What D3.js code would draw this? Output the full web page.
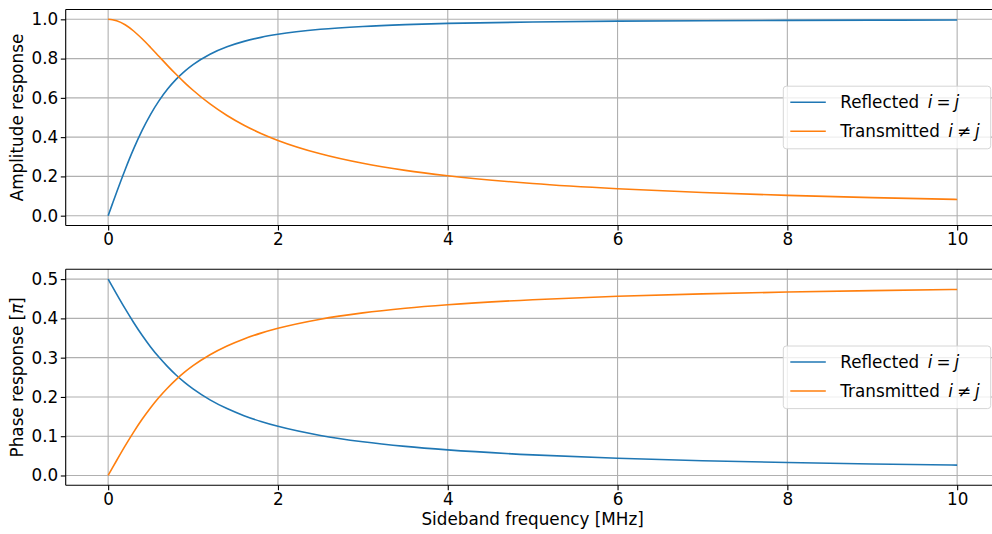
<!DOCTYPE html>
<html>
<head>
<meta charset="utf-8">
<script src="https://cdn.jsdelivr.net/npm/d3@7"></script>
<style>
  html, body { margin: 0; padding: 0; background: #fff; }
  svg { display: block; font-family: "DejaVu Sans", sans-serif; }
</style>
</head>
<body>
<svg id="chart" width="992" height="534"></svg>
<script>
// ---- data ----
const freq = [0, 0.05, 0.1, 0.2, 0.3, 0.4, 0.5, 0.6, 0.7, 0.8, 0.9, 1.0, 1.2, 1.4, 1.6, 1.8, 2.0, 2.5, 3.0, 3.5, 4, 5, 6, 7, 8, 9, 10];
const ampReflected = [0, 0.0601, 0.1196, 0.2343, 0.3399, 0.4341, 0.5160, 0.5858, 0.6447, 0.6940, 0.7351, 0.7695, 0.8224, 0.8602, 0.8877, 0.9081, 0.9236, 0.9491, 0.9638, 0.9730, 0.9791, 0.9865, 0.9906, 0.9930, 0.9947, 0.9958, 0.9966];
const ampTransmitted = [1, 0.9982, 0.9928, 0.9722, 0.9405, 0.9008, 0.8566, 0.8104, 0.7644, 0.7200, 0.6779, 0.6387, 0.5689, 0.5100, 0.4605, 0.4187, 0.3833, 0.3151, 0.2666, 0.2307, 0.2032, 0.1638, 0.1370, 0.1177, 0.1032, 0.0918, 0.0827];
const phaseReflected = [0.5, 0.4808, 0.4618, 0.4247, 0.3896, 0.3570, 0.3274, 0.3008, 0.2772, 0.2559, 0.2371, 0.2205, 0.1926, 0.1703, 0.1523, 0.1375, 0.1252, 0.1020, 0.0859, 0.0741, 0.0651, 0.0524, 0.0438, 0.0376, 0.0329, 0.0293, 0.0264];
const phaseTransmitted = [0, 0.0192, 0.0382, 0.0753, 0.1104, 0.1430, 0.1726, 0.1992, 0.2228, 0.2441, 0.2629, 0.2795, 0.3074, 0.3297, 0.3477, 0.3625, 0.3748, 0.3980, 0.4141, 0.4259, 0.4349, 0.4476, 0.4562, 0.4624, 0.4671, 0.4707, 0.4736];
const xTicks = [0, 2, 4, 6, 8, 10];
const ampTicks = [0.0, 0.2, 0.4, 0.6, 0.8, 1.0];
const phaseTicks = [0.0, 0.1, 0.2, 0.3, 0.4, 0.5];
const seriesNames = ["Reflected", "Transmitted"];
const seriesSymbols = ["=", "\u2260"];
const xLabel = "Sideband frequency [MHz]";
const ampLabel = "Amplitude response";
const phaseLabel = "Phase response [";

// ---- styling ----
const colors = ["#1f77b4", "#ff7f0e"];
const fontSize = 16.8;
const tickLen = 4.9;
const svg = d3.select("#chart");

const left = 65.7, right = 999.6;
const x = d3.scaleLinear().domain([-0.5, 10.5]).range([left, right]);

function panel(top, bottom, yDomain, yTicks, s1, s2, label, isPhase, showXLabel) {
  const y = d3.scaleLinear().domain(yDomain).range([bottom, top]);
  const g = svg.append("g");

  // grid
  g.append("g").selectAll("line").data(xTicks).join("line")
    .attr("x1", d => x(d)).attr("x2", d => x(d)).attr("y1", top).attr("y2", bottom)
    .attr("stroke", "#b0b0b0").attr("stroke-width", 1.1);
  g.append("g").selectAll("line").data(yTicks).join("line")
    .attr("x1", left).attr("x2", right).attr("y1", d => y(d)).attr("y2", d => y(d))
    .attr("stroke", "#b0b0b0").attr("stroke-width", 1.1);

  // lines
  const line = d3.line().x((d, i) => x(freq[i])).y(d => y(d)).curve(d3.curveMonotoneX);
  [s1, s2].forEach((s, k) => {
    g.append("path").datum(s).attr("d", line)
      .attr("fill", "none").attr("stroke", colors[k]).attr("stroke-width", 1.6);
  });

  // axes
  const xAxis = d3.axisBottom(x).tickValues(xTicks).tickFormat(d3.format("d")).tickSize(tickLen).tickPadding(3);
  const yAxis = d3.axisLeft(y).tickValues(yTicks).tickFormat(d3.format(".1f")).tickSize(tickLen).tickPadding(2.5);
  const gx = g.append("g").attr("transform", `translate(0,${bottom})`).call(xAxis);
  const gy = g.append("g").attr("transform", `translate(${left},0)`).call(yAxis);
  [gx, gy].forEach(a => {
    a.attr("font-size", fontSize).attr("font-family", "DejaVu Sans");
    a.select(".domain").remove();
    a.selectAll(".tick line").attr("stroke", "#000").attr("stroke-width", 1.1);
    a.selectAll(".tick text").attr("font-size", fontSize).attr("fill", "#000");
  });

  // spines
  const sp = [[left, top, left, bottom], [left, top, right, top], [left, bottom, right, bottom], [right, top, right, bottom]];
  g.append("g").selectAll("line").data(sp).join("line")
    .attr("x1", d => d[0]).attr("y1", d => d[1]).attr("x2", d => d[2]).attr("y2", d => d[3])
    .attr("stroke", "#000").attr("stroke-width", 1.1);

  // y label
  const yl = g.append("text")
    .attr("transform", `translate(23,${(top + bottom) / 2}) rotate(-90)`)
    .attr("text-anchor", "middle").attr("font-size", fontSize).attr("fill", "#000");
  yl.append("tspan").text(label);
  if (isPhase) {
    yl.append("tspan").attr("font-style", "italic").text("\u03c0");
    yl.append("tspan").text("]");
  }

  // x label
  if (showXLabel) {
    g.append("text").attr("x", (left + right) / 2).attr("y", 525)
      .attr("text-anchor", "middle").attr("font-size", fontSize).attr("fill", "#000")
      .text(xLabel);
  }

  // legend (center right)
  const lh = 62.6, lw = 207.4;
  const lx = 783.3, ly = (top + bottom) / 2 - lh / 2;
  const lg = g.append("g");
  lg.append("rect").attr("x", lx).attr("y", ly).attr("width", lw).attr("height", lh)
    .attr("rx", 3).attr("fill", "#fff").attr("fill-opacity", 0.8)
    .attr("stroke", "#d6d6d6").attr("stroke-width", 1);
  seriesNames.forEach((n, k) => {
    const cy = ly + 16 + k * 29;
    lg.append("line").attr("x1", lx + 7).attr("x2", lx + 42.5).attr("y1", cy).attr("y2", cy)
      .attr("stroke", colors[k]).attr("stroke-width", 1.6);
    const t = lg.append("text").attr("x", lx + 57).attr("y", cy + 5.8)
      .attr("font-size", fontSize).attr("fill", "#000");
    t.append("tspan").text(n);
    t.append("tspan").attr("dx", 8.5).attr("font-style", "italic").text("i");
    t.append("tspan").attr("dx", 4).text(seriesSymbols[k]);
    t.append("tspan").attr("dx", 4).attr("font-style", "italic").text("j");
  });
}

panel(9.5, 225.5, [-0.05, 1.05], ampTicks, ampReflected, ampTransmitted, ampLabel, false, false);
panel(269.3, 485.3, [-0.025, 0.525], phaseTicks, phaseReflected, phaseTransmitted, phaseLabel, true, true);
</script>
</body>
</html>
